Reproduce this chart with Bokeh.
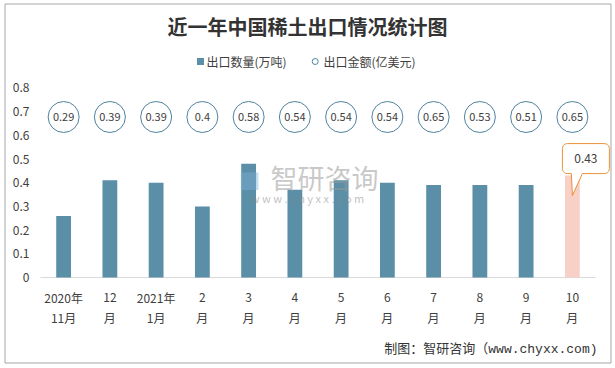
import numpy as np
from bokeh.plotting import figure
from bokeh.models import Range1d
from bokeh.core.properties import value
from bokeh.embed import file_html
from bokeh.resources import INLINE

# ---------------- data ----------------
x_labels_top = ["2020年", "12", "2021年", "2", "3", "4", "5", "6", "7", "8", "9", "10"]
x_labels_bottom = ["11月", "月", "1月", "月", "月", "月", "月", "月", "月", "月", "月", "月"]
export_qty = [0.26, 0.41, 0.40, 0.30, 0.48, 0.37, 0.41, 0.40, 0.39, 0.39, 0.39, 0.43]   # 出口数量(万吨)
export_amt = [0.29, 0.39, 0.39, 0.4, 0.58, 0.54, 0.54, 0.54, 0.65, 0.53, 0.51, 0.65]    # 出口金额(亿美元)
y_ticks = [0, 0.1, 0.2, 0.3, 0.4, 0.5, 0.6, 0.7, 0.8]
y_tick_labels = ["0", "0.1", "0.2", "0.3", "0.4", "0.5", "0.6", "0.7", "0.8"]
series_names = ["出口数量(万吨)", "出口金额(亿美元)"]
title_text = "近一年中国稀土出口情况统计图"
source_text = "制图：智研咨询（www.chyxx.com)"

# ---------------- layout (frame = whole canvas) ----------------
W, H = 615, 368
PPX = 46.25            # pixels per category
PLOT_LEFT = 40         # pixel of category edge -0.5
PPY = 237.0            # pixels per unit of value
BASE = 277             # pixel of value 0
X0 = -0.5 - PLOT_LEFT / PPX
X1 = X0 + W / PPX
Y1 = BASE / PPY
Y0 = Y1 - H / PPY

def dx(px):
    return X0 + px / PPX

def dy(py):
    return Y1 - py / PPY

FONT = "Noto Sans CJK SC"
TXT = "#404040"
BLUE = "#5A8FA7"
PINK = "#F9D0C6"
RING = "#4F83A0"
ORANGE = "#E8923A"

p = figure(width=W, height=H, x_range=Range1d(X0, X1), y_range=Range1d(Y0, Y1),
           output_backend="svg", toolbar_location=None,
           x_axis_location=None, y_axis_location=None,
           min_border=0, min_border_left=0, min_border_right=0, min_border_top=0, min_border_bottom=0,
           background_fill_color="white", border_fill_color="white", outline_line_color=None)
p.grid.visible = False

n = len(export_qty)
idx = list(range(n))

# outer border
p.quad(left=[dx(4.5)], right=[dx(610.5)], top=[dy(3.5)], bottom=[dy(362.5)],
       fill_alpha=0, line_color="#a6a6a6", line_width=1)

# title
p.text(x=[dx(307)], y=[dy(26)], text=[title_text], text_align="center", text_baseline="middle",
       text_font=value(FONT), text_font_size="20px", text_font_style="bold", text_color="#333333")

# legend
p.scatter(x=[dx(200)], y=[dy(61)], marker="square", size=7, fill_color=BLUE, line_color=None)
p.text(x=[dx(206)], y=[dy(61)], text=[series_names[0]], text_align="left", text_baseline="middle",
       text_font=value(FONT), text_font_size="12px", text_color=TXT)
p.scatter(x=[dx(314.7)], y=[dy(61)], marker="circle", size=6, fill_color="white",
          line_color=RING, line_width=1)
p.text(x=[dx(323)], y=[dy(61)], text=[series_names[1]], text_align="left", text_baseline="middle",
       text_font=value(FONT), text_font_size="12px", text_color=TXT)

# y tick labels
p.text(x=[dx(29)] * len(y_ticks), y=y_ticks, text=y_tick_labels, text_align="right",
       text_baseline="middle", text_font=value(FONT), text_font_size="12px", text_color=TXT)

# x tick labels (two lines)
p.text(x=idx, y=[dy(297)] * n, text=x_labels_top, text_align="center", text_baseline="middle",
       text_font=value(FONT), text_font_size="12px", text_color=TXT)
p.text(x=idx, y=[dy(317)] * n, text=x_labels_bottom, text_align="center", text_baseline="middle",
       text_font=value(FONT), text_font_size="12px", text_color=TXT)

# base line
p.segment(x0=[-0.5], x1=[n - 0.5], y0=[0], y1=[0], line_color="#d9d9d9", line_width=1)

# bars
bar_colors = [BLUE] * (n - 1) + [PINK]
p.vbar(x=idx, top=export_qty, width=0.32, fill_color=bar_colors, line_color=None)

# amount circles
row = [dy(116.5)] * n
p.scatter(x=idx, y=row, size=31, marker="circle", fill_color="white", line_color=RING, line_width=1)
p.text(x=idx, y=row, text=[f"{v:g}" for v in export_amt], text_align="center", text_baseline="middle",
       text_font=value(FONT), text_font_size="11px", text_color=TXT)

# watermark
p.text(x=[dx(324)], y=[dy(177)], text=["智研咨询"], text_align="center", text_baseline="middle",
       text_font=value(FONT), text_font_size="27px", text_color="#9a9a9a", text_alpha=0.55)
p.text(x=[dx(307)], y=[dy(197)], text=["w w w . c h y x x . c o m"], text_align="center",
       text_baseline="middle", text_font=value(FONT), text_font_size="11px",
       text_color="#8a8a8a", text_alpha=0.55)
p.text(x=[dx(249)], y=[dy(178)], text=["■"], text_align="center", text_baseline="middle",
       text_font=value(FONT), text_font_size="22px", text_color="#7fb0d8", text_alpha=0.45)

# callout for last bar
li = n - 1
lv = export_qty[li]
l, r, b, t, rad = -10, 37, 2, 32, 5
pl, pr, tipx, tipy = -1, 10, 0, -20
pts = []
for a in np.linspace(np.pi, 1.5 * np.pi, 6):
    pts.append((l + rad + rad * np.cos(a), b + rad + rad * np.sin(a)))
pts += [(pl, b), (tipx, tipy), (pr, b)]
for a in np.linspace(1.5 * np.pi, 2 * np.pi, 6):
    pts.append((r - rad + rad * np.cos(a), b + rad + rad * np.sin(a)))
for a in np.linspace(0, 0.5 * np.pi, 6):
    pts.append((r - rad + rad * np.cos(a), t - rad + rad * np.sin(a)))
for a in np.linspace(0.5 * np.pi, np.pi, 6):
    pts.append((l + rad + rad * np.cos(a), t - rad + rad * np.sin(a)))
cx = [li + q[0] / PPX for q in pts]
cy = [lv + q[1] / PPY for q in pts]
p.patch(cx, cy, fill_color="white", line_color=ORANGE, line_width=1)
p.text(x=[li + 13.5 / PPX], y=[lv + 17 / PPY], text=[f"{lv:g}"], text_align="center",
       text_baseline="middle", text_font=value(FONT), text_font_size="12px", text_color=TXT)

# source
p.text(x=[dx(597)], y=[dy(349)], text=[source_text], text_align="right", text_baseline="middle",
       text_font=value("Liberation Mono, Noto Sans CJK SC"), text_font_size="13px", text_color="#333333")

open("out.html", "w").write(file_html(p, INLINE))
